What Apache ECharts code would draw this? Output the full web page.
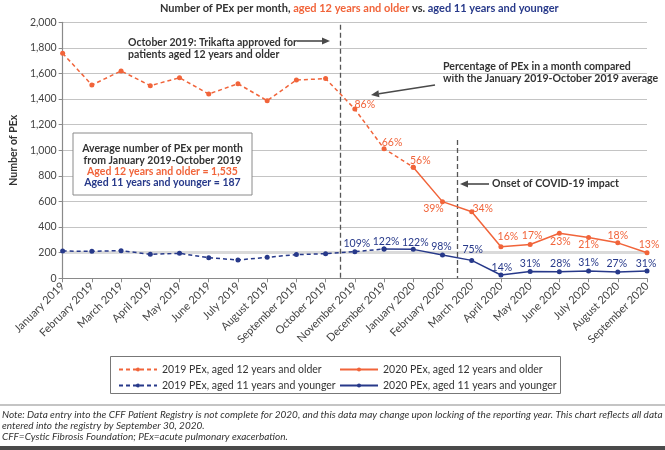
<!DOCTYPE html>
<html><head><meta charset="utf-8">
<script src="https://cdn.jsdelivr.net/npm/echarts@6/dist/echarts.min.js"></script>
<style>html,body{margin:0;padding:0;background:#fff}#c{width:665px;height:450px}</style>
</head><body><div id="c"></div>
<script>
// ---- data ----
const months = ['January 2019','February 2019','March 2019','April 2019','May 2019','June 2019','July 2019','August 2019','September 2019','October 2019','November 2019','December 2019','January 2020','February 2020','March 2020','April 2020','May 2020','June 2020','July 2020','August 2020','September 2020'];
// 12+ years, Jan 2019 - Jan 2020 (dashed) and Jan 2020 - Sep 2020 (solid)
const older2019 = [1758,1510,1620,1505,1567,1440,1520,1388,1549,1560,1322,1013,868];
const older2020 = [868,599,520,247,264,352,318,277,200];
// <=11 years, Jan 2019 - Dec 2019 (dashed) and Dec 2019 - Sep 2020 (solid)
const younger2019 = [213,211,216,187,195,161,143,164,185,192,208,229];
const younger2020 = [229,226,182,140,26,53,52,57,49,57];
// percentage labels, Nov 2019 - Sep 2020
const olderPct = ['86%','66%','56%','39%','34%','16%','17%','23%','21%','18%','13%'];
const youngerPct = ['109%','122%','122%','98%','75%','14%','31%','28%','31%','27%','31%'];
const yTicks = [0,200,400,600,800,1000,1200,1400,1600,1800,2000];

// ---- styling ----
const ORANGE = '#f1643a', BLUE = '#27398a', DARK = '#333333';
const FONT = 'Lato';
const olderOff = [[10,-4],[8,-6],[7,-7],[-9,7],[11,-3],[7,-10],[2,-9],[1,8],[0,7],[0,-7],[2,-8]];
const youngerOff = [[2,-8],[2,-7],[2,-7],[-1,-8],[1,-11],[1,-7],[0,-8],[1,-8],[0,-8],[-1,-8],[-1,-7]];
const PCT_START = 10;

function build(values, start, pct, offs, color, labFrom, labTo) {
  const arr = months.map(() => null);
  values.forEach((v, i) => {
    const idx = start + i;
    const item = { value: v };
    const p = idx - PCT_START;
    if (idx >= labFrom && idx <= labTo && p >= 0 && p < pct.length) {
      item.label = { show: true, position: 'inside', offset: offs[p], formatter: pct[p],
        color: color, fontSize: 10.5, fontFamily: FONT };
    }
    arr[idx] = item;
  });
  return arr;
}

const chart = echarts.init(document.getElementById('c'), null, { renderer: 'canvas' });
const lineSeries = (name, data, color, dashed) => ({
  name, type: 'line', data, connectNulls: false,
  symbol: 'circle', symbolSize: 5, z: 10,
  itemStyle: { color },
  lineStyle: { color, width: 1.5, type: dashed ? [4, 3] : 'solid' },
  label: { show: false }, emphasis: { disabled: true }
});

const L1 = '2019 PEx, aged 12 years and older', L2 = '2020 PEx, aged 12 years and older',
      L3 = '2019 PEx, aged 11 years and younger', L4 = '2020 PEx, aged 11 years and younger';

function arrow(x1, y1, x2, y2) {
  const ang = Math.atan2(y2 - y1, x2 - x1), len = 8, w = 3.5;
  const bx = x2 - len * Math.cos(ang), by = y2 - len * Math.sin(ang);
  const px = -Math.sin(ang) * w, py = Math.cos(ang) * w;
  return [
    { type: 'line', shape: { x1, y1, x2: bx, y2: by }, style: { stroke: '#4a4a4a', lineWidth: 1.6 } },
    { type: 'polygon', shape: { points: [[x2, y2], [bx + px, by + py], [bx - px, by - py]] }, style: { fill: '#4a4a4a' } }
  ];
}
function txt(extra, style) {
  return Object.assign({ type: 'text' }, extra, {
    style: Object.assign({ fontFamily: FONT, fontSize: 10.5, fontWeight: 'bold', fill: DARK }, style) });
}

const legendBase = { orient: 'vertical', top: 359, itemGap: 5, itemWidth: 38, itemHeight: 5,
  textStyle: { fontSize: 10.5, color: DARK, fontFamily: FONT }, selectedMode: false };

const option = {
  animation: false,
  textStyle: { fontFamily: FONT },
  title: {
    left: 160, top: 3, padding: 0,
    text: '{a|Number of PEx per month, }{b|aged 12 years and older}{a| vs. }{c|aged 11 years and younger}',
    textStyle: { rich: {
      a: { color: DARK, fontWeight: 'bold', fontSize: 11, fontFamily: FONT },
      b: { color: ORANGE, fontWeight: 'bold', fontSize: 11, fontFamily: FONT },
      c: { color: BLUE, fontWeight: 'bold', fontSize: 11, fontFamily: FONT } } }
  },
  grid: { left: 52, right: 18, top: 22.3, bottom: 171.7, containLabel: false },
  legend: [
    Object.assign({ data: [L1, L3], left: 113 }, legendBase),
    Object.assign({ data: [L2, L4], left: 334 }, legendBase)
  ],
  xAxis: [{
    type: 'category', data: months, boundaryGap: false,
    axisLine: { lineStyle: { color: '#8a8a8a', width: 1.2 } },
    axisTick: { show: true, length: 4, alignWithLabel: true, lineStyle: { color: '#8a8a8a' } },
    axisLabel: { rotate: 45, fontSize: 11, color: '#444', margin: 6, interval: 0, fontFamily: FONT },
    splitLine: { show: false }
  }, {
    type: 'value', min: 0, max: 20, show: false
  }],
  yAxis: {
    type: 'value', min: yTicks[0], max: yTicks[yTicks.length - 1], interval: yTicks[1] - yTicks[0],
    name: 'Number of PEx', nameLocation: 'middle', nameGap: 43,
    nameTextStyle: { fontWeight: 'bold', fontSize: 10.5, color: DARK, fontFamily: FONT },
    axisLine: { show: true, lineStyle: { color: '#8a8a8a', width: 1.2 } },
    axisTick: { show: true, length: 4, lineStyle: { color: '#8a8a8a' } },
    axisLabel: { fontSize: 10.5, color: '#444', margin: 6, fontFamily: FONT,
      formatter: v => v.toLocaleString('en-US') },
    splitLine: { lineStyle: { color: '#c4c4c4', width: 1.2 } }
  },
  series: [
    lineSeries(L1, build(older2019, 0, olderPct, olderOff, ORANGE, 0, 11), ORANGE, true),
    lineSeries(L2, build(older2020, 12, olderPct, olderOff, ORANGE, 12, 20), ORANGE, false),
    lineSeries(L3, build(younger2019, 0, youngerPct, youngerOff, BLUE, 0, 10), BLUE, true),
    lineSeries(L4, build(younger2020, 11, youngerPct, youngerOff, BLUE, 11, 20), BLUE, false),
    {
      type: 'line', xAxisIndex: 1, data: [], z: 1, silent: true,
      markLine: {
        silent: true, symbol: 'none', label: { show: false }, animation: false, z: 1,
        data: [
          [{ coord: [0, 200], lineStyle: { color: '#dadada', width: 3, type: 'solid' } }, { coord: [20, 200] }],
          [{ coord: [9.5, 1980], lineStyle: { color: '#555', width: 1.3, type: [5, 3] } }, { coord: [9.5, 0] }],
          [{ coord: [13.5, 1080], lineStyle: { color: '#555', width: 1.3, type: [5, 3] } }, { coord: [13.5, 0] }]
        ]
      }
    }
  ],
  graphic: [
    txt({ left: 128, top: 37 }, { text: 'October 2019: Trikafta approved for\npatients aged 12 years and older', lineHeight: 12 }),
    ...arrow(297, 41, 330, 41),
    txt({ left: 443, top: 61 }, { text: 'Percentage of PEx in a month compared\nwith the January 2019-October 2019 average', fontSize: 10.6, lineHeight: 12 }),
    ...arrow(435, 85, 371, 95),
    txt({ left: 492, top: 178 }, { text: 'Onset of COVID-19 impact' }),
    ...arrow(489, 184, 460, 184),
    { type: 'rect', shape: { x: 73, y: 133, width: 179, height: 62 }, style: { fill: '#fff', stroke: '#8a8a8a', lineWidth: 1 }, z: 10 },
    txt({ x: 162.5, y: 143, z: 11 }, { text: 'Average number of PEx per month\nfrom January 2019-October 2019', textAlign: 'center', lineHeight: 12 }),
    txt({ x: 162.5, y: 166, z: 11 }, { text: 'Aged 12 years and older = 1,535', fill: ORANGE, textAlign: 'center' }),
    txt({ x: 162.5, y: 177.5, z: 11 }, { text: 'Aged 11 years and younger = 187', fill: BLUE, textAlign: 'center' }),
    { type: 'rect', shape: { x: 110.5, y: 356.5, width: 450, height: 37 }, style: { fill: 'none', stroke: '#777', lineWidth: 1 } },
    { type: 'rect', shape: { x: 0, y: 404.5, width: 665, height: 1 }, style: { fill: '#8a8a8a' } },
    txt({ left: 2, top: 409 }, { text: 'Note: Data entry into the CFF Patient Registry is not complete for 2020, and this data may change upon locking of the reporting year. This chart reflects all data\nentered into the registry by September 30, 2020.',
      fontStyle: 'italic', fontWeight: 'normal', fontSize: 10, lineHeight: 11.5 }),
    txt({ left: 2, top: 432 }, { text: 'CFF=Cystic Fibrosis Foundation; PEx=acute pulmonary exacerbation.', fontStyle: 'italic', fontWeight: 'normal', fontSize: 10 }),
    { type: 'rect', shape: { x: 0, y: 446, width: 665, height: 4 }, style: { fill: '#4a4a4a' } }
  ]
};
chart.setOption(option);
</script></body></html>
